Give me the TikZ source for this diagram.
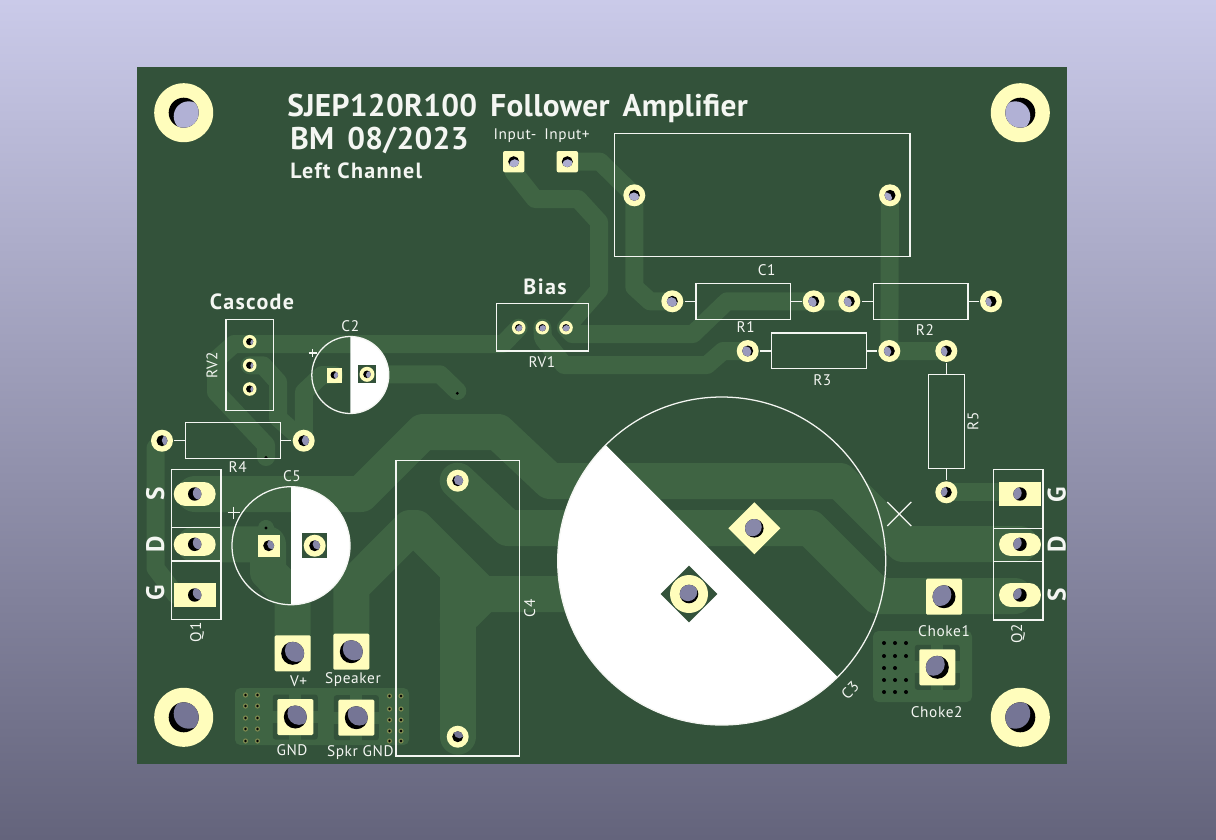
\documentclass[tikz,border=0pt]{standalone}
\usepackage{fontspec}
\setmainfont{PT Sans}
\newfontfamily\silkfont[LetterSpace=4]{PT Sans}
\newfontfamily\silkwide[LetterSpace=6]{PT Sans}
\newfontfamily\silktitle[LetterSpace=1,WordSpace=1.6]{PT Sans}
\usetikzlibrary{positioning}
\definecolor{boardgreen}{HTML}{33523A}
\definecolor{tracegreen}{HTML}{3F6443}
\definecolor{padyellow}{HTML}{FFFDBC}
\definecolor{silkwhite}{HTML}{F4F6F2}
\definecolor{holetop}{HTML}{B6B6DA}
\definecolor{holelow}{HTML}{707090}
\definecolor{viaring}{HTML}{7E8A50}
\newcommand{\padhole}[3]{%
	\pgfmathsetmacro{\holedx}{(600-#1)*0.012}
	\pgfmathsetmacro{\holedy}{(415-#2)*0.012}
	\pgfmathtruncatemacro{\holemix}{(#2-60)/7}
	\colorlet{holecol}{holelow!\holemix!holetop}
	\fill[black] (#1,#2) circle[radius=#3];
	\begin{scope}
		\clip (#1,#2) circle[radius=#3];
		\fill[holecol] (#1+\holedx,#2+\holedy) circle[radius=#3];
	\end{scope}}
\tikzset{
	trace/.style={draw=tracegreen,line width=13.5pt,line join=round,line cap=round},
	widetrace/.style={trace,line width=27pt},
	viatrace/.style={trace,line width=12pt},
	silkline/.style={draw=silkwhite,line width=0.95pt},
	silkhalf/.style={fill=white},
	silklabel/.style={text=silkwhite,inner sep=0pt,font=\silkfont\fontsize{11.5}{12}\selectfont},
	silkbig/.style={text=silkwhite,inner sep=0pt,font=\silkwide\bfseries\fontsize{16.5}{18}\selectfont},
	silkpin/.style={text=silkwhite,inner sep=0pt,rotate=90,font=\silkwide\bfseries\fontsize{19}{20}\selectfont},
	padfill/.style={fill=padyellow},
	clearfill/.style={fill=boardgreen}
}
\begin{document}
\begin{tikzpicture}[x=0.75pt,y=-0.75pt]
\useasboundingbox (0,0) rectangle (1216,839);
\shade[top color={rgb,255:red,202;green,202;blue,233},bottom color={rgb,255:red,100;green,100;blue,124}] (0,0) rectangle (1216,839);
\fill[boardgreen] (137,67) rectangle (1067,764);

\draw[trace] (513.7,161.7) -- (513.7,172) -- (535,199) -- (578,199) -- (599,222) -- (599,290) -- (566,327.7);
\draw[trace] (567.3,161.7) -- (600,161.7) -- (634.3,195.3) -- (634.3,287) -- (650,301.3) -- (672.3,301.3);
\draw[trace] (566,327.7) -- (572,334) -- (693,334) -- (727,301.3) -- (849.3,301.3);
\draw[trace] (542.3,327.7) -- (543,338) -- (564,365) -- (707,365) -- (723,351) -- (747.7,351);
\draw[trace] (518.7,327.7) -- (503,344) -- (234,344) -- (216,360) -- (216,392) -- (266,445) -- (266,457);
\draw[trace] (249.7,365.3) -- (263,365.3) -- (278,382) -- (278,418) -- (303.7,440.7);
\draw[trace] (334.3,375) -- (322,375) -- (304,392) -- (303.7,440.7);
\draw[trace] (367,374.3) -- (440,374.3) -- (457.3,391);
\draw[trace] (890,195.3) -- (889.3,351) -- (946.3,351);
\draw[trace] (162,440.7) -- (155.5,448) -- (155.5,568) -- (176,595) -- (194.7,595);
\draw[trace] (946.3,492.3) -- (1019,492.3);
\draw[widetrace] (194.7,494) -- (361,494) -- (423,432) -- (498,432) -- (550,481) -- (840,481) -- (903,544) -- (1020,544);
\draw[widetrace] (457.7,480.7) -- (508,528) -- (810,528) -- (878,596) -- (1015,596);
\draw[widetrace] (194.7,544.3) -- (268,544.3) -- (268,572) -- (292.7,597) -- (292.7,653.3);
\draw[widetrace] (351.3,651.7) -- (351.3,587) -- (410,528) -- (416,528) -- (482,594) -- (689,594);
\draw[widetrace] (457.7,570) -- (457.7,736.7);
\draw[widetrace] (457.7,620) -- (484,594);
\draw[viatrace] (266,528) -- (268.7,540);

\fill[tracegreen,rounded corners=4pt] (235,688) rectangle (409,745);
\fill[tracegreen,rounded corners=4pt] (873,631) rectangle (972,702);
\foreach \px/\py in {295.3/717,356.3/717.7,937.3/667.3}{
	\fill[clearfill,rounded corners=2pt] (\px,\py) ++(-22.5,-22.5) rectangle ++(45,45);
	\fill[tracegreen] (\px,\py) ++(-6,-26) rectangle ++(12,52);
	\fill[tracegreen] (\px,\py) ++(-26,-6) rectangle ++(52,12);
}
\foreach \px in {245.5,257.5}{
	\foreach \py in {695,706,718,729,741}{
		\fill[viaring] (\px,\py) circle[radius=2.6];
		\fill[black] (\px,\py) circle[radius=1.3];
	}
}
\foreach \px in {389.5,401}{
	\foreach \py in {696,709,720,731,741}{
		\fill[viaring] (\px,\py) circle[radius=2.6];
		\fill[black] (\px,\py) circle[radius=1.3];
	}
}
\foreach \px/\py in {884/643,895/643,906/643,884/656,895/656,906/656,884/668,895/668,884/680,895/680,906/680,884/692,895/692,906/692}{
	\fill[black] (\px,\py) circle[radius=2];
}
\foreach \px/\py in {457.3/393.3,266/457.5,266/528}{
	\fill[black] (\px,\py) circle[radius=1.6];
}

\fill[silkhalf] (350.3,336.5) arc[start angle=-90,end angle=90,radius=38.5] -- cycle;
\fill[silkhalf] (291,486.7) arc[start angle=-90,end angle=90,radius=59] -- cycle;
\fill[silkhalf] (605.7,445) arc[start angle=225,end angle=45,radius=164] -- cycle;
\draw[silkline] (350.3,375) circle[radius=38.5];
\draw[silkline] (291,545.7) circle[radius=59];
\draw[silkline] (721.7,561) circle[radius=164];

\draw[silkline] (614.3,133.7) rectangle (910,256.3);
\draw[silkline] (696,283.7) rectangle (790.7,319.3);
\draw[silkline] (873.3,283.7) rectangle (968,319.3);
\draw[silkline] (771.7,333) rectangle (866.3,368.7);
\draw[silkline] (928.7,374.7) rectangle (964.3,468.7);
\draw[silkline] (185.7,422.7) rectangle (280.3,458.3);
\draw[silkline] (226,319.7) rectangle (273.3,410.3);
\draw[silkline] (496.7,303.7) rectangle (588.3,351);
\draw[silkline] (396,460.7) rectangle (519.3,756);
\draw[silkline] (171.7,469.3) rectangle (221,619.3);
\draw[silkline] (171.7,527.7) -- (221,527.7) (171.7,561) -- (221,561);
\draw[silkline] (993.7,469.3) rectangle (1043,620);
\draw[silkline] (993.7,528.3) -- (1043,528.3) (993.7,561.7) -- (1043,561.7);
\draw[silkline] (685,301.3) -- (696,301.3) (790.7,301.3) -- (802,301.3);
\draw[silkline] (862,301.3) -- (873.3,301.3) (968,301.3) -- (979,301.3);
\draw[silkline] (760,351) -- (771.7,351) (866.3,351) -- (877,351);
\draw[silkline] (946.5,363) -- (946.5,374.7) (946.5,468.7) -- (946.5,480);
\draw[silkline] (174,440.7) -- (185.7,440.7) (280.3,440.7) -- (291,440.7);
\draw[silkline] (308.7,353) -- (316.7,353) (312.7,349) -- (312.7,357);
\draw[silkline] (227.7,512.7) -- (239.7,512.7) (233.7,506.7) -- (233.7,518.7);
\draw[silkline] (887.3,502) -- (911.3,526) (887.3,526) -- (911.3,502);

\foreach \px/\py in {183.7/112.7,1020.3/112.7,183.7/717.3,1020.3/717.3}{
	\fill[padfill] (\px,\py) circle[radius=29.5];
	\padhole{\px}{\py}{15}
}
\foreach \px/\py in {634.3/195.3,890/195.3,672.3/301.3,813.7/301.3,849.3/301.3,991/301.3,747.7/351,889.3/351,946.3/351,946.3/492.3,162/440.7,303.7/440.7,457.7/480.7,457.7/736.7}{
	\fill[padfill] (\px,\py) circle[radius=11];
	\padhole{\px}{\py}{5.5}
}
\foreach \px/\py in {249.7/341.7,249.7/365.3,249.7/389,518.7/327.7,542.3/327.7,566/327.7}{
	\fill[padfill] (\px,\py) circle[radius=6.8];
	\padhole{\px}{\py}{3.6}
}
\foreach \px/\py in {513.7/161.7,567.3/161.7}{
	\fill[padfill,rounded corners=1.5pt] (\px,\py) ++(-10.7,-10.7) rectangle ++(21.4,21.4);
	\padhole{\px}{\py}{5.5}
}
\foreach \px/\py in {292.7/653.3,351.3/651.7,295.3/717,356.3/717.7,944/596.7,937.3/667.3}{
	\fill[padfill,rounded corners=1pt] (\px,\py) ++(-18,-18) rectangle ++(36,36);
	\padhole{\px}{\py}{11.5}
}
\foreach \px/\py in {194.7/494,194.7/544.3,1020/544.3,1020/595}{
	\draw[padyellow,line width=17.5pt,line cap=round] (\px-9.3,\py) -- (\px+9.3,\py);
	\padhole{\px}{\py}{6.7}
}
\foreach \px/\py in {194.7/595,1020/494}{
	\fill[padfill] (\px,\py) ++(-21,-11.7) rectangle ++(42,23.4);
	\padhole{\px}{\py}{6.7}
}
\fill[padfill] (334.3,375) ++(-7.5,-7.5) rectangle ++(15,15);
\padhole{334.3}{375}{3.8}
\fill[clearfill] (367,374.3) ++(-9,-9) rectangle ++(18,18);
\fill[padfill] (367,374.3) circle[radius=7.5];
\padhole{367}{374.3}{3.8}
\fill[padfill] (268.7,545.7) ++(-11,-11) rectangle ++(22,22);
\padhole{268.7}{545.7}{5.5}
\fill[clearfill] (314.7,545.7) ++(-12.7,-12.7) rectangle ++(25.4,25.4);
\fill[padfill] (314.7,545.7) circle[radius=11];
\padhole{314.7}{545.7}{5.5}
\fill[padfill] (754.3,502.3) -- (780.3,528.3) -- (754.3,554.3) -- (728.3,528.3) -- cycle;
\padhole{754.3}{528.3}{9.3}
\fill[clearfill] (689,565.7) -- (717.3,594) -- (689,622.3) -- (660.7,594) -- cycle;
\fill[padfill] (689,594) circle[radius=19];
\padhole{689}{594}{9.3}

\node[silkbig,font=\silktitle\bfseries\fontsize{23.5}{26}\selectfont,anchor=base west] (title) at (287,116) {SJEP120R100 Follower Amplifier};
\node[silkbig,font=\silktitle\bfseries\fontsize{23.5}{26}\selectfont,anchor=base west] (date) at (290,149) {BM 08/2023};
\node[silkbig,font=\silkwide\bfseries\fontsize{16.5}{18}\selectfont,anchor=base west] (channel) at (290,178) {Left Channel};
\node[silkbig] (cascode) at (252,301.3) {Cascode};
\node[silkbig] (bias) at (545,287) {Bias};
\node[silklabel] (inminus) at (515,135.3) {Input-};
\node[silklabel] (inplus) at (567,135.3) {Input+};
\node[silklabel] (labelC1) at (766.7,269.7) {C1};
\node[silklabel] (labelC2) at (350.3,326) {C2};
\node[silklabel] (labelC5) at (292,476) {C5};
\node[silklabel,rotate=45] (labelC3) at (850,690) {C3};
\node[silklabel,rotate=90] (labelC4) at (529.7,608.3) {C4};
\node[silklabel] (labelR1) at (745.7,327.3) {R1};
\node[silklabel] (labelR2) at (925,329.7) {R2};
\node[silklabel] (labelR3) at (822.3,380.3) {R3};
\node[silklabel] (labelR4) at (237.7,467) {R4};
\node[silklabel,rotate=90] (labelR5) at (973,421) {R5};
\node[silklabel] (labelRV1) at (542,361.7) {RV1};
\node[silklabel,rotate=90] (labelRV2) at (212,365.3) {RV2};
\node[silklabel,rotate=90] (labelQ1) at (197,632.3) {Q1};
\node[silklabel,rotate=90] (labelQ2) at (1018,634) {Q2};
\node[silklabel] (labelV) at (298.7,681.7) {V+};
\node[silklabel] (labelSpeaker) at (353,680) {Speaker};
\node[silklabel] (labelGND) at (292,750) {GND};
\node[silklabel] (labelSpkrGND) at (360.3,752.3) {Spkr GND};
\node[silklabel] (labelChokeA) at (944,631) {Choke1};
\node[silklabel] (labelChokeB) at (936.7,711.7) {Choke2};
\node[silkpin] (leftS) at (155.3,494) {S};
\node[silkpin] (leftD) at (155.3,544.3) {D};
\node[silkpin] (leftG) at (155.3,593) {G};
\node[silkpin] (rightG) at (1056.7,494.3) {G};
\node[silkpin] (rightD) at (1056.7,544) {D};
\node[silkpin] (rightS) at (1056.7,595) {S};
\end{tikzpicture}
\end{document}
